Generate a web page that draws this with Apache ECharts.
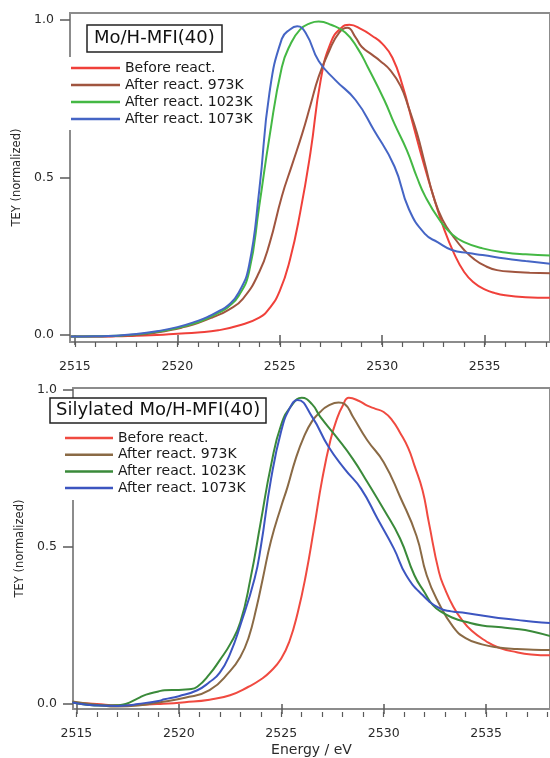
<!DOCTYPE html>
<html>
<head>
<meta charset="utf-8">
<script src="https://cdn.jsdelivr.net/npm/echarts@6/dist/echarts.min.js"></script>
<style>
  html, body { margin: 0; padding: 0; background: #fff; }
  #chart { width: 550px; height: 758px; }
</style>
</head>
<body>
<div id="chart"></div>
<script>
// Axis ticks
const energyMajorTicks = [2515, 2520, 2525, 2530, 2535];
const energyMinorTicks = [2515, 2516, 2517, 2518, 2519, 2520, 2521, 2522, 2523, 2524, 2525, 2526,
  2527, 2528, 2529, 2530, 2531, 2532, 2533, 2534, 2535, 2536, 2537, 2538];
const teyTicks = [0, 0.5, 1.0];

const seriesNames = ['Before react.', 'After react. 973K', 'After react. 1023K', 'After react. 1073K'];
const panelTitles = ['Mo/H-MFI(40)', 'Silylated Mo/H-MFI(40)'];

// ---- Mo/H-MFI(40): S K-edge spectra (energy in eV, normalized TEY) ----
const moBeforeE = [2514.8, 2516, 2517, 2518, 2519, 2520, 2521, 2522, 2523, 2524, 2524.5, 2525, 2525.5, 2526,
  2526.5, 2527, 2527.5, 2528, 2528.4, 2529, 2529.5, 2530, 2530.5, 2531, 2531.5, 2532, 2532.5, 2533, 2533.5,
  2534, 2534.5, 2535, 2535.5, 2536, 2537, 2538.2];
const moBeforeV = [-0.005, -0.005, -0.004, -0.002, 0.0, 0.004, 0.008, 0.015, 0.03, 0.055, 0.085, 0.14, 0.24, 0.39,
  0.58, 0.81, 0.93, 0.975, 0.985, 0.97, 0.95, 0.925, 0.88, 0.79, 0.67, 0.55, 0.44, 0.34, 0.26,
  0.2, 0.165, 0.145, 0.133, 0.126, 0.12, 0.118];

const mo973E = [2514.8, 2516, 2517, 2518, 2519, 2520, 2520.3, 2521, 2521.75, 2522.5, 2523.2, 2524, 2524.5, 2525.1,
  2525.6, 2526.1, 2526.5, 2526.9, 2527.4, 2527.9, 2528.3, 2528.7, 2529, 2529.5, 2529.9, 2530.4, 2530.9, 2531.3,
  2531.7, 2532.1, 2532.5, 2532.95, 2533.5, 2534, 2534.5, 2535, 2535.6, 2536.5, 2537.2, 2538.2];
const mo973V = [-0.005, -0.005, -0.003, 0.0, 0.008, 0.02, 0.025, 0.038, 0.057, 0.08, 0.115, 0.2, 0.29, 0.44,
  0.54, 0.64, 0.73, 0.82, 0.9, 0.96, 0.975, 0.945, 0.915, 0.89, 0.87, 0.84, 0.79, 0.72,
  0.64, 0.54, 0.44, 0.365, 0.31, 0.27, 0.24, 0.22, 0.206, 0.2, 0.198, 0.196];

const mo1023E = [2514.8, 2516, 2517, 2518, 2519, 2520, 2521, 2521.5, 2522, 2522.5, 2523, 2523.5, 2524, 2524.5,
  2525.1, 2525.5, 2526, 2526.5, 2526.9, 2527.5, 2528.2, 2528.8, 2529.3, 2530.1, 2530.6, 2531.2, 2531.7,
  2532.1, 2532.8, 2533.4, 2534, 2534.9, 2536, 2537, 2538.2];
const mo1023V = [-0.005, -0.004, -0.002, 0.002, 0.01, 0.022, 0.04, 0.054, 0.07, 0.09, 0.125, 0.2, 0.41, 0.63,
  0.85, 0.92, 0.97, 0.99, 0.995, 0.985, 0.96, 0.91, 0.85, 0.746, 0.67, 0.587, 0.5,
  0.44, 0.365, 0.32, 0.295, 0.275, 0.262, 0.256, 0.252];

const mo1073E = [2514.8, 2516, 2517, 2518, 2519, 2520, 2521, 2521.5, 2522, 2522.5, 2523, 2523.5, 2524,
  2524.5, 2525.1, 2525.5, 2525.85, 2526.3, 2526.9, 2527.7, 2528.7, 2529.6, 2530.6, 2531.3, 2532.1, 2532.7,
  2533.4, 2534.2, 2534.9, 2536, 2537, 2538.2];
const mo1073V = [-0.005, -0.004, -0.002, 0.003, 0.012, 0.025, 0.045, 0.058, 0.075, 0.095, 0.135, 0.22, 0.46,
  0.77, 0.94, 0.97, 0.98, 0.955, 0.87, 0.81, 0.746, 0.65, 0.535, 0.4, 0.32, 0.295,
  0.27, 0.26, 0.254, 0.243, 0.235, 0.226];

// ---- Silylated Mo/H-MFI(40) ----
const silBeforeE = [2514.8, 2516, 2517, 2518, 2519, 2520.3, 2521.5, 2522.5, 2523.4, 2524, 2524.5, 2525, 2525.4,
  2525.8, 2526.2, 2526.6, 2527, 2527.4, 2527.7, 2528, 2528.3, 2528.8, 2529.2, 2529.6, 2530, 2530.4, 2530.8,
  2531.2, 2531.5, 2531.9, 2532.2, 2532.7, 2533, 2533.4, 2533.8, 2534.3, 2535, 2535.6, 2536.5, 2537.2, 2538.2];
const silBeforeV = [0.005, 0.0, -0.004, -0.003, 0.0, 0.006, 0.014, 0.028, 0.055, 0.078, 0.105, 0.145, 0.2,
  0.29, 0.41, 0.56, 0.716, 0.84, 0.905, 0.95, 0.975, 0.965, 0.95, 0.94, 0.93, 0.905, 0.864,
  0.815, 0.76, 0.68, 0.58, 0.42, 0.365, 0.31, 0.27, 0.233, 0.2, 0.18, 0.165, 0.158, 0.155];

const sil973E = [2514.8, 2516, 2517, 2518, 2519, 2520.3, 2521.5, 2522.5, 2523, 2523.4, 2523.8, 2524.1, 2524.5, 2525,
  2525.3, 2525.7, 2526.1, 2526.5, 2526.9, 2527.3, 2527.8, 2528.1, 2528.5, 2529.2, 2530, 2530.8, 2531.6, 2532.1,
  2532.7, 2533.4, 2534, 2534.8, 2535.6, 2536.5, 2537.3, 2538.2];
const sil973V = [0.008, -0.002, -0.008, -0.005, 0.005, 0.02, 0.044, 0.105, 0.15, 0.21, 0.31, 0.4, 0.52, 0.63,
  0.69, 0.78, 0.85, 0.9, 0.93, 0.95, 0.96, 0.955, 0.915, 0.84, 0.77, 0.66, 0.536, 0.41,
  0.32, 0.245, 0.21, 0.19, 0.18, 0.175, 0.173, 0.172];

const sil1023E = [2514.8, 2515.5, 2516.1, 2517, 2517.4, 2518, 2518.4, 2519, 2519.3, 2520, 2520.5, 2520.9, 2521.5,
  2522, 2522.5, 2523, 2523.5, 2524, 2524.5, 2525, 2525.5, 2526, 2526.5, 2526.9, 2527.7, 2528.5, 2529.2, 2530,
  2530.8, 2531.5, 2532, 2532.4, 2532.9, 2533.4, 2534, 2534.8, 2535.6, 2536.4, 2537.2, 2538.2];
const sil1023V = [0.005, -0.002, -0.005, -0.004, 0.0, 0.018, 0.03, 0.04, 0.044, 0.045, 0.047, 0.055, 0.095,
  0.14, 0.19, 0.26, 0.4, 0.58, 0.76, 0.89, 0.95, 0.975, 0.955, 0.915, 0.85, 0.78, 0.707, 0.62,
  0.527, 0.41, 0.355, 0.315, 0.29, 0.274, 0.262, 0.25, 0.245, 0.24, 0.232, 0.215];

const sil1073E = [2514.8, 2515.5, 2516.1, 2517, 2517.4, 2518, 2519, 2519.3, 2520, 2520.9, 2521.5, 2522, 2522.5,
  2523, 2523.7, 2524, 2524.5, 2525, 2525.4, 2525.8, 2526.5, 2527.3, 2528.1, 2528.9, 2529.7, 2530.5, 2531.1,
  2531.9, 2532.7, 2533.3, 2534, 2534.8, 2535.6, 2536.5, 2537.3, 2538.2];
const sil1073V = [0.005, -0.002, -0.005, -0.006, -0.005, 0.0, 0.01, 0.015, 0.025, 0.044, 0.07, 0.1, 0.16,
  0.25, 0.4, 0.5, 0.716, 0.87, 0.94, 0.968, 0.915, 0.82, 0.748, 0.685, 0.59, 0.495, 0.41,
  0.347, 0.306, 0.295, 0.29, 0.282, 0.274, 0.268, 0.262, 0.258];

const topColors = ['#f0403a', '#a0553f', '#44b844', '#4565c5'];
const bottomColors = ['#f04a40', '#8a6a45', '#3a8a3a', '#3c55c0'];

const FONT = 'DejaVu Sans';
const pairs = (e, v) => e.map((x, i) => [x, v[i]]);

const panels = [
  { left: 70, top: 13, height: 329, xMin: 2514.762, xMax: 2538.19, yMin: -0.0222, yMax: 1.0222,
    colors: topColors,
    data: [pairs(moBeforeE, moBeforeV), pairs(mo973E, mo973V), pairs(mo1023E, mo1023V), pairs(mo1073E, mo1073V)] },
  { left: 73, top: 388, height: 324, xMin: 2514.833, xMax: 2538.12, yMin: -0.0158, yMax: 1.0063,
    colors: bottomColors,
    data: [pairs(silBeforeE, silBeforeV), pairs(sil973E, sil973V), pairs(sil1023E, sil1023V), pairs(sil1073E, sil1073V)] }
];

const frameColor = '#8c8c8c';
const tickColor = '#5a5a5a';
const labelColor = '#2a2a2a';

const grid = [], xAxis = [], yAxis = [], series = [];
panels.forEach((p, gi) => {
  grid.push({ left: p.left, top: p.top, right: -12, height: p.height, show: true,
    borderColor: frameColor, borderWidth: 2, backgroundColor: 'transparent' });
  // labelled axis with major ticks
  xAxis.push({
    gridIndex: gi, type: 'value', min: p.xMin, max: p.xMax, position: 'bottom',
    axisLine: { show: false },
    axisTick: { show: true, customValues: energyMajorTicks, length: 10, lineStyle: { color: tickColor, width: 1.5 } },
    axisLabel: { customValues: energyMajorTicks, formatter: v => String(Math.round(v)), margin: 18,
      fontFamily: FONT, fontSize: 12.5, color: labelColor },
    splitLine: { show: false },
    name: gi === 1 ? 'Energy / eV' : '', nameLocation: 'middle', nameGap: 34,
    nameTextStyle: { fontFamily: FONT, fontSize: 14, color: labelColor }
  });
  // minor ticks, moved onto the bottom edge
  xAxis.push({
    gridIndex: gi, type: 'value', min: p.xMin, max: p.xMax, position: 'top', offset: -p.height,
    axisLine: { show: false },
    axisTick: { show: true, inside: true, customValues: energyMinorTicks, length: 5, lineStyle: { color: tickColor, width: 1.2 } },
    axisLabel: { show: false }, splitLine: { show: false }
  });
  yAxis.push({
    gridIndex: gi, type: 'value', min: p.yMin, max: p.yMax,
    axisLine: { show: false },
    axisTick: { show: true, customValues: teyTicks, length: 10, lineStyle: { color: tickColor, width: 1.5 } },
    axisLabel: { customValues: teyTicks, formatter: v => v.toFixed(1), margin: 16, fontFamily: FONT, fontSize: 12.5, color: labelColor },
    splitLine: { show: false },
    name: 'TEY (normalized)', nameLocation: 'middle', nameGap: 38,
    nameTextStyle: { fontFamily: FONT, fontSize: 11.5, color: labelColor }
  });
  p.data.forEach((d, si) => {
    series.push({
      type: 'line', name: seriesNames[si], xAxisIndex: gi * 2, yAxisIndex: gi,
      data: d, showSymbol: false, symbol: 'none', smooth: 0.5,
      lineStyle: { color: p.colors[si], width: 2 }, itemStyle: { color: p.colors[si] },
      z: 3
    });
  });
});

const legendText = { fontFamily: FONT, fontSize: 14, color: '#1a1a1a', lineHeight: 14 };

const option = {
  backgroundColor: '#fff',
  animation: false,
  title: [
    { text: panelTitles[0], left: 87, top: 25, padding: [4, 7, 4, 7], borderColor: '#222', borderWidth: 1.5,
      backgroundColor: '#fff', textStyle: { fontFamily: FONT, fontSize: 18, fontWeight: 'normal', color: '#111', lineHeight: 19 } },
    { text: panelTitles[1], left: 50, top: 398, padding: [3, 6, 3, 6], borderColor: '#222', borderWidth: 1.5,
      backgroundColor: '#fff', textStyle: { fontFamily: FONT, fontSize: 18, fontWeight: 'normal', color: '#111', lineHeight: 19 } }
  ],
  legend: [
    { left: 68, top: 57, orient: 'vertical', padding: [4, 4, 4, 3], itemGap: 3, itemWidth: 49, itemHeight: 2.5,
      icon: 'rect', backgroundColor: '#fff', selectedMode: false, textStyle: legendText,
      data: seriesNames.map((n, i) => ({ name: n, itemStyle: { color: topColors[i] } })) },
    { left: 62, top: 423, orient: 'vertical', padding: [8, 4, 5, 3], itemGap: 2.7, itemWidth: 48, itemHeight: 2.5,
      icon: 'rect', backgroundColor: '#fff', selectedMode: false, textStyle: legendText,
      data: seriesNames.map((n, i) => ({ name: n, itemStyle: { color: bottomColors[i] } })) }
  ],
  grid, xAxis, yAxis, series
};

const chart = echarts.init(document.getElementById('chart'), null, { renderer: 'canvas' });
chart.setOption(option);
</script>
</body>
</html>
